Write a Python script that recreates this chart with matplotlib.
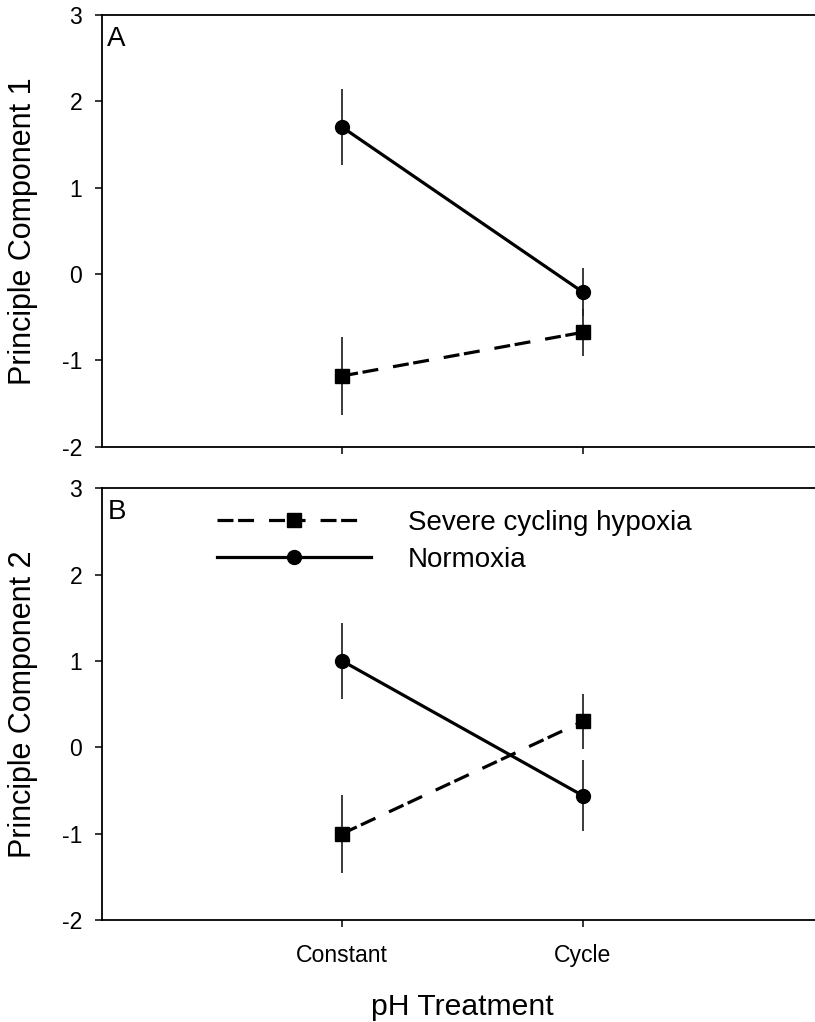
import matplotlib
matplotlib.use("Agg")
import matplotlib.pyplot as plt

plt.rcParams['font.family'] = ['Liberation Sans', 'DejaVu Sans']
plt.rcParams['lines.scale_dashes'] = False

treatments = ['Constant', 'Cycle']
x_pos = [1, 2]

pc1_hypoxia = [-1.18, -0.675]
pc1_hypoxia_err = [0.45, 0.27]
pc1_normoxia = [1.70, -0.21]
pc1_normoxia_err = [0.44, 0.28]

pc2_hypoxia = [-1.00, 0.30]
pc2_hypoxia_err = [0.45, 0.32]
pc2_normoxia = [1.00, -0.56]
pc2_normoxia_err = [0.44, 0.41]

yticks = [-2, -1, 0, 1, 2, 3]
label_hypoxia = 'Severe cycling hypoxia'
label_normoxia = 'Normoxia'

W, H = 815, 1022
fig = plt.figure(figsize=(W / 100, H / 100), dpi=100)

left_px = 101.7
right_px = 823.5
panels = [
    (15.0, 446.7, pc1_hypoxia, pc1_hypoxia_err, pc1_normoxia, pc1_normoxia_err, 'Principle Component 1', 'A'),
    (488.3, 920.0, pc2_hypoxia, pc2_hypoxia_err, pc2_normoxia, pc2_normoxia_err, 'Principle Component 2', 'B'),
]

dash_pattern = (11.5, 3.3, 11.5, 10.8)
axes = []
for top_px, bot_px, hy, hy_e, no, no_e, ylab, tag in panels:
    ax = fig.add_axes([left_px / W, 1 - bot_px / H, (right_px - left_px) / W, (bot_px - top_px) / H])
    axes.append(ax)
    err_kw = dict(fmt='none', ecolor='#222222', elinewidth=1.25, capsize=0, zorder=2)
    ax.errorbar(x_pos, hy, yerr=hy_e, **err_kw)
    ax.errorbar(x_pos, no, yerr=no_e, **err_kw)
    lh, = ax.plot(x_pos, hy, color='black', lw=2.3, marker='s', markersize=10, zorder=3,
                  label=label_hypoxia, dashes=dash_pattern, dash_capstyle='butt')
    ln, = ax.plot(x_pos, no, color='black', lw=2.3, marker='o', markersize=10, zorder=3,
                  label=label_normoxia)
    ax.set_xlim(0, 3)
    ax.set_ylim(-2, 3)
    ax.set_yticks(yticks)
    ax.set_yticklabels([str(v) for v in yticks])
    ax.set_xticks(x_pos)
    ax.spines['right'].set_visible(False)
    for s in ['left', 'top', 'bottom']:
        ax.spines[s].set_linewidth(1.3)
    ax.tick_params(axis='y', direction='out', length=5, width=1.1, labelsize=16.6, pad=9.0)
    ax.tick_params(axis='x', direction='out', length=5, width=1.1, labelsize=16.6, pad=12.0,
                   top=False)
    ax.set_ylabel(ylab, fontsize=22)
    ax.yaxis.set_label_coords((38.5 - left_px) / (right_px - left_px), 0.5)
    ax.annotate(tag, xy=(0, 1), xycoords='axes fraction', xytext=(4, -8),
                textcoords='offset points', ha='left', va='top', fontsize=20)

axes[0].set_xticklabels(['', ''])
axes[1].set_xticklabels(treatments)
axes[1].set_xlabel('pH Treatment', fontsize=21.7)
axes[1].xaxis.set_label_coords(0.5, (920 - 992.5) / (920 - 488.3))

hl = [l for l in axes[1].get_lines() if l.get_label() in (label_hypoxia, label_normoxia)]
leg = axes[1].legend(hl, [l.get_label() for l in hl], loc='upper left',
                     bbox_to_anchor=(217 / W, 1 - 510 / H), bbox_transform=fig.transFigure,
                     frameon=False, fontsize=20, handlelength=5.55, handletextpad=1.33,
                     borderpad=0, borderaxespad=0, labelspacing=0.4, numpoints=1)

fig.savefig('out.png', dpi=100)
